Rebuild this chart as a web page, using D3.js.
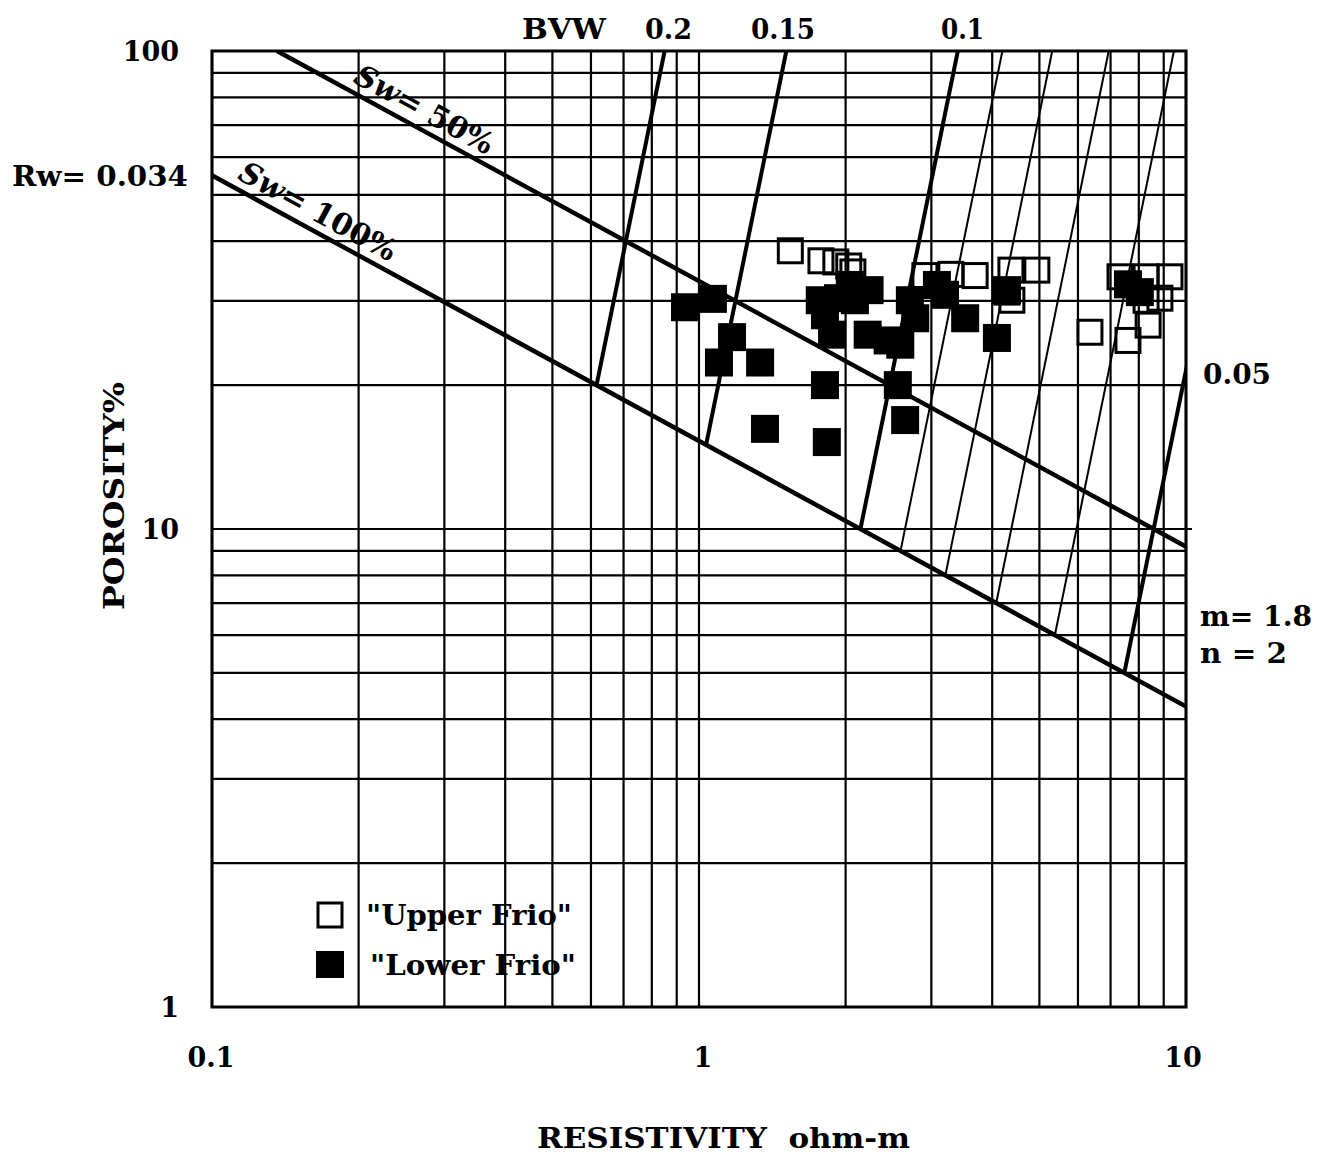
<!DOCTYPE html>
<html>
<head>
<meta charset="utf-8">
<script src="https://cdn.jsdelivr.net/npm/d3@7"></script>
<style>
  body { margin: 0; background: #fff; }
  svg text { font-family: "DejaVu Serif", serif; font-weight: bold; fill: #000; }
</style>
</head>
<body>
<svg id="chart" width="1323" height="1155"></svg>
<script>
// Pickett plot: porosity vs deep resistivity, Frio sands

// Archie parameters used for the overlay lines
const rw = 0.034, mExp = 1.8, nExp = 2;
const swLines = [1, 0.5];
const swLabels = ["100%", "50%"];
const swLabelRt = [0.11, 0.19];
const bvwMajor = [0.2, 0.15, 0.1, 0.05];
const bvwMinor = [0.09, 0.08, 0.07, 0.06];
const xTickLabels = [0.1, 1, 10];
const yTickLabels = [1, 10, 100];

// "Upper Frio" (open squares)
const upperRt  = [1.54, 1.78, 1.91, 2.03, 2.07, 2.91, 3.29, 3.69, 4.37, 4.94, 4.29, 4.39, 6.35, 7.32, 8.28, 9.27, 8.28, 8.84, 8.36, 7.60];
const upperPhi = [38.2, 36.4, 36.2, 35.5, 34.5, 33.9, 34.1, 33.9, 34.8, 34.8, 31.3, 30.1, 25.8, 33.7, 33.7, 33.7, 30.1, 30.4, 26.7, 24.8];

// "Lower Frio" (filled squares)
const lowerRt  = [0.936, 1.068, 1.169, 1.099, 1.335, 1.366, 1.814, 1.83, 2.56, 2.65, 1.77, 1.93, 1.876, 1.814, 2.04, 2.24, 2.09, 2.22, 2.44, 2.59, 2.71, 2.78, 3.08, 3.20, 3.52, 4.09, 4.29, 7.60, 8.04];
const lowerPhi = [29.1, 30.3, 25.2, 22.3, 22.3, 16.2, 20.0, 15.2, 20.0, 16.9, 30.1, 30.4, 25.5, 28.0, 32.4, 31.6, 30.1, 25.5, 24.8, 24.3, 30.1, 27.6, 32.4, 30.9, 27.6, 25.1, 31.6, 32.5, 31.3];

const svg = d3.select("#chart");
const x = d3.scaleLog().domain([0.1, 10]).range([212, 1186]);
const y = d3.scaleLog().domain([1, 100]).range([1007, 51]);
const [x0, x1] = x.range();
const [y1, y0] = y.range();

svg.append("defs").append("clipPath").attr("id", "plot")
    .append("rect")
    .attr("x", x0).attr("y", y0)
    .attr("width", x1 - x0).attr("height", y1 - y0);

// grid
const grid = svg.append("g").attr("stroke", "#000").attr("stroke-width", 2.2);
grid.selectAll("line.v").data(x.ticks()).join("line").attr("class", "v")
    .attr("x1", d => x(d)).attr("x2", d => x(d))
    .attr("y1", y0).attr("y2", y1);
grid.selectAll("line.h").data(y.ticks()).join("line").attr("class", "h")
    .attr("x1", x0).attr("x2", d => d === 10 ? x1 + 6 : x1)
    .attr("y1", d => y(d)).attr("y2", d => y(d));

// Archie lines
const line = d3.line().x(d => x(d[0])).y(d => y(d[1] * 100));
const rtFromSw = (phi, sw) => rw / (Math.pow(phi, mExp) * Math.pow(sw, nExp));

const overlay = svg.append("g").attr("clip-path", "url(#plot)").attr("fill", "none").attr("stroke", "#000");

overlay.selectAll("path.sw").data(swLines).join("path").attr("class", "sw")
    .attr("stroke-width", 4.5)
    .attr("d", sw => line([1, 0.01].map(p => [rtFromSw(p, sw), p])));

function bvwPath(b) {
    // Sw = b / phi, from Sw = 1 up to phi = 1
    return line([b, 1].map(p => [rtFromSw(p, b / p), p]));
}
overlay.selectAll("path.bvw").data(bvwMajor).join("path").attr("class", "bvw")
    .attr("stroke-width", 4)
    .attr("d", bvwPath);
overlay.selectAll("path.bvwm").data(bvwMinor).join("path").attr("class", "bvwm")
    .attr("stroke-width", 2)
    .attr("d", bvwPath);

// Sw labels along their lines
swLines.forEach((sw, i) => {
    const rt = swLabelRt[i];
    const p1 = Math.pow(rw / (rt * Math.pow(sw, nExp)), 1 / mExp);
    const p2 = Math.pow(rw / (rt * 2 * Math.pow(sw, nExp)), 1 / mExp);
    const px = x(rt), py = y(p1 * 100);
    const ang = Math.atan2(y(p2 * 100) - py, x(rt * 2) - px) * 180 / Math.PI;
    const t = svg.append("text")
        .attr("transform", `translate(${px},${py}) rotate(${ang})`)
        .attr("y", -9)
        .attr("font-size", 30);
    t.append("tspan").attr("font-style", "italic").text("Sw");
    t.append("tspan").text("= " + swLabels[i]);
});

// markers
const marks = svg.append("g");
marks.selectAll("rect.up").data(upperRt).join("rect").attr("class", "up")
    .attr("x", (d, i) => x(d) - 12).attr("y", (d, i) => y(upperPhi[i]) - 12)
    .attr("width", 24).attr("height", 24)
    .attr("fill", "none").attr("stroke", "#000").attr("stroke-width", 3);
marks.selectAll("rect.lo").data(lowerRt).join("rect").attr("class", "lo")
    .attr("x", (d, i) => x(d) - 14).attr("y", (d, i) => y(lowerPhi[i]) - 14)
    .attr("width", 28).attr("height", 28)
    .attr("fill", "#000");

// frame
svg.append("rect")
    .attr("x", x0).attr("y", y0)
    .attr("width", x1 - x0).attr("height", y1 - y0)
    .attr("fill", "none").attr("stroke", "#000").attr("stroke-width", 3);

function label(px, py, str, size, opts = {}) {
    const t = svg.append("text").attr("x", px).attr("y", py)
        .attr("font-size", size).text(str);
    if (opts.anchor) t.attr("text-anchor", opts.anchor);
    if (opts.len) t.attr("textLength", opts.len).attr("lengthAdjust", "spacingAndGlyphs");
    if (opts.transform) t.attr("transform", opts.transform);
    return t;
}

// tick labels
yTickLabels.forEach(v => label(179, y(v) + 10, String(v), 27, { anchor: "end" }));
xTickLabels.forEach(v => label(x(v) + (v === 1 ? 4 : v === 10 ? -3 : -1), 1067, String(v), 27, { anchor: "middle" }));

// annotations
label(12, y(54.9) + 11, "Rw= 0.034", 28, { len: 176 });
label(522, 39, "BVW", 28, { len: 84 });
label(645, 39, "0.2", 28, { len: 47 });
label(751, 39, "0.15", 28, { len: 64 });
label(941, 39, "0.1", 28, { len: 43 });
label(1203, 384, "0.05", 27, { len: 68 });
label(1200, 626, "m= 1.8", 27, { len: 112 });
label(1200, 663, "n = 2", 27, { len: 87 });

// axis titles
label(537, 1148, "RESISTIVITY  ohm-m", 28, { len: 373 }).attr("xml:space", "preserve");
label(0, 0, "POROSITY%", 28, { anchor: "middle", len: 228, transform: "translate(124,496) rotate(-90)" });

// legend
svg.append("rect").attr("x", 318).attr("y", 903).attr("width", 24).attr("height", 24)
    .attr("fill", "none").attr("stroke", "#000").attr("stroke-width", 3);
svg.append("rect").attr("x", 316).attr("y", 951).attr("width", 28).attr("height", 27)
    .attr("fill", "#000");
label(366, 925, "\"Upper Frio\"", 27, { len: 206 });
label(370, 975, "\"Lower Frio\"", 27, { len: 206 });
</script>
</body>
</html>
